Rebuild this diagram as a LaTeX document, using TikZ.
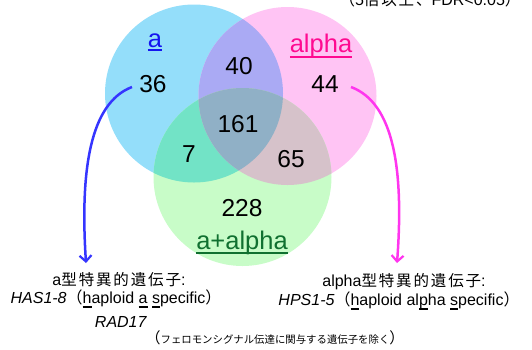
\documentclass[tikz,border=0pt]{standalone}
\usepackage{fontspec}
\setmainfont{Liberation Sans}
\newfontfamily\jpw[LetterSpace=12]{Noto Sans CJK JP}
\newfontfamily\jpn{Noto Sans CJK JP}
\usetikzlibrary{arrows.meta}
\definecolor{cA}{HTML}{94DEFA}
\definecolor{cP}{HTML}{FFC4F4}
\definecolor{cG}{HTML}{C8FCC8}
\definecolor{cAP}{HTML}{AAAAF4}
\definecolor{cAG}{HTML}{72E3C6}
\definecolor{cPG}{HTML}{D6C2CA}
\definecolor{cAPG}{HTML}{90B0C6}
\definecolor{labA}{HTML}{1414F0}
\definecolor{labP}{HTML}{FF0A90}
\definecolor{labG}{HTML}{107030}
\definecolor{arrA}{HTML}{3535FF}
\definecolor{arrP}{HTML}{FF35EE}
\newlength\myulw
\newcommand\myul[3]{\settowidth\myulw{#3}\makebox[0pt][l]{\rule[#1]{\myulw}{#2}}#3}
\newcommand\cjk[1]{{\fontsize{15.5}{15.5}\jpw #1}}
\tikzset{
  num/.style={font=\fontsize{24.5}{24.5}\selectfont, anchor=base, inner sep=0pt},
  lab/.style={font=\fontsize{25.5}{25.5}\selectfont, anchor=base, inner sep=0pt},
  bt/.style={font=\fontsize{16}{16}\selectfont, anchor=base, inner sep=0pt},
  arrw/.style={line width=2.5pt, -{Straight Barb[length=6pt,width=12pt,line width=2.2pt]}},
}
\begin{document}
\begin{tikzpicture}[x=1pt,y=-1pt]
\useasboundingbox (0,0) rectangle (532,349);
\coordinate (CA) at (194,93.5);
\coordinate (CP) at (287.5,96);
\coordinate (CG) at (242.5,177);
\def\rr{89}
\fill[cA] (CA) circle (\rr);
\fill[cP] (CP) circle (\rr);
\fill[cG] (CG) circle (\rr);
\begin{scope}\clip (CA) circle (\rr); \fill[cAP] (CP) circle (\rr); \end{scope}
\begin{scope}\clip (CA) circle (\rr); \fill[cAG] (CG) circle (\rr); \end{scope}
\begin{scope}\clip (CP) circle (\rr); \fill[cPG] (CG) circle (\rr); \end{scope}
\begin{scope}\clip (CA) circle (\rr); \clip (CP) circle (\rr); \fill[cAPG] (CG) circle (\rr); \end{scope}
% labels
\node[lab, text=labA] (la) at (155,47) {\myul{-3.5pt}{2pt}{a}};
\node[lab, text=labP] (lp) at (321,52) {\myul{-5.5pt}{2pt}{alpha}};
\node[lab, text=labG] (lg) at (242,249) {\myul{-5pt}{2pt}{a+alpha}};
% numbers
\node[num] (n36) at (153,92) {36};
\node[num] (n40) at (239,74) {40};
\node[num] (n44) at (325,92.5) {44};
\node[num] (n161) at (238,132) {161};
\node[num] (n7) at (189,162) {7};
\node[num] (n65) at (291,167) {65};
\node[num] (n228) at (242,216) {228};
% top note (cut off at the top edge, as in the reference)
\node[bt] (top) at (430,5) {{\jpn （}5\cjk{倍以上、}FDR<0.05{\jpn ）}};
% bottom texts
\node[bt] (ta1) at (119,285) {a\cjk{型特異的遺伝子}:};
\node[bt] (ta2) at (116,303) {\textit{HAS1-8}{\jpn （}\myul{-5pt}{1.6pt}{h}aploid \myul{-5pt}{1.6pt}{a} \myul{-5pt}{1.6pt}{s}pecific{\jpn ）}};
\node[bt] (ta3) at (121,327) {\textit{RAD17}};
\node[bt] (tp1) at (404,286) {alpha\cjk{型特異的遺伝子}:};
\node[bt] (tp2) at (399,305) {\textit{HPS1-5}{\jpn （}\myul{-5pt}{1.6pt}{h}aploid al\myul{-5pt}{1.6pt}{p}ha \myul{-5pt}{1.6pt}{s}pecific{\jpn ）}};
\node[anchor=base, inner sep=0pt] (note) at (275,343) {{\fontsize{15}{15}\jpn （}{\fontsize{10.4}{11}\jpn フェロモンシグナル伝達に関与する遺伝子を除く}{\fontsize{15}{15}\jpn ）}};
% arrows
\coordinate (sA) at (132,87);
\coordinate (eA) at (86,263);
\coordinate (sP) at (351,87);
\coordinate (eP) at (397,263);
\draw[arrw, arrA] (sA) .. controls (90,103) and (80,170) .. (eA);
\draw[arrw, arrP] (sP) .. controls (394,103) and (404,170) .. (eP);
\end{tikzpicture}
\end{document}
